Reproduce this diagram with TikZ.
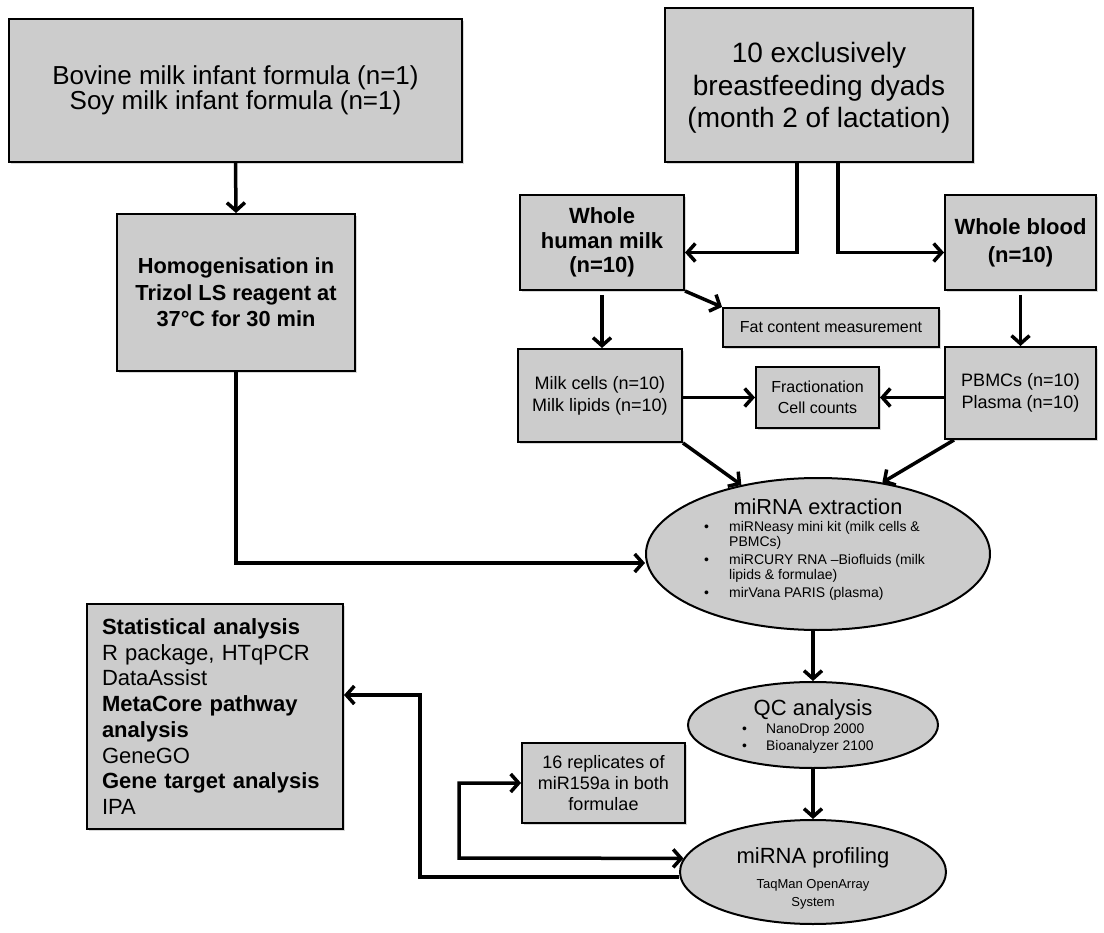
\documentclass[tikz,border=0pt]{standalone}
\usepackage{fontspec}
\setmainfont{Liberation Sans}
\usetikzlibrary{arrows.meta,shapes.geometric,shadows,calc}
\definecolor{boxgray}{RGB}{204,204,204}
\newcommand{\fs}[2]{\fontsize{#1}{#2}\selectfont}
\newcommand{\bulx}[1]{\makebox[#1][l]{\textbullet}}
\tikzset{
  x=1pt, y=-1pt,
  box/.style={draw=black, line width=2pt, fill=boxgray, inner sep=0pt, align=center,
    drop shadow={shadow xshift=2pt, shadow yshift=-2pt, opacity=0.3}},
  oval/.style={ellipse, draw=black, line width=2pt, fill=boxgray, inner sep=0pt},
  txt/.style={inner sep=0pt, align=center},
  barb/.tip={Straight Barb[length=8pt,width=18pt]},
  conn/.style={line width=3.5pt, -barb},
  twoway/.style={line width=3.5pt, barb-barb},
}
\begin{document}
\begin{tikzpicture}
\fill[white] (0,0) rectangle (1104,933);
\useasboundingbox (0,0) rectangle (1104,933);

% source samples
\node[box, minimum width=453pt, minimum height=143pt, font=\fs{26}{24}] (formula) at (235.5,90.5)
  {Bovine milk infant formula (n=1)\\Soy milk infant formula (n=1)};
\node[box, minimum width=308pt, minimum height=154pt, text depth=0pt, font=\fs{28}{32.5}] (dyads) at (819,85)
  {10 exclusively\\breastfeeding dyads\\(month 2 of lactation)};

% formula branch
\node[box, minimum width=238pt, minimum height=157pt, font=\bfseries\fs{21.8}{26.5}] (homog) at (236,292.5)
  {Homogenisation in\\Trizol LS reagent at\\37°C for 30 min};

% human milk / blood branch
\node[box, minimum width=164pt, minimum height=95pt, font=\bfseries\fs{22}{24.5}] (humanmilk) at (602,242.5)
  {Whole\\human milk\\(n=10)};
\node[box, minimum width=151pt, minimum height=95pt, font=\bfseries\fs{22}{28}] (blood) at (1020.5,242.5)
  {Whole blood\\(n=10)};
\node[box, minimum width=216pt, minimum height=39pt, font=\fs{16}{20}] (fat) at (831,327.5)
  {Fat content measurement};
\node[box, minimum width=164pt, minimum height=93pt, font=\fs{18}{22}] (milkcells) at (600,395.5)
  {Milk cells (n=10)\\Milk lipids (n=10)};
\node[box, minimum width=123pt, minimum height=61pt, font=\fs{16}{21}] (fraction) at (817.5,397.5)
  {Fractionation\\Cell counts};
\node[box, minimum width=151pt, minimum height=92pt, font=\fs{18}{22}] (pbmc) at (1020.5,393)
  {PBMCs (n=10)\\Plasma (n=10)};

% miRNA extraction
\node[oval, minimum width=344pt, minimum height=152pt] (extract) at (818,554) {};
\node[txt, font=\fs{21.7}{24}] (extractT) at (818,507) {miRNA extraction};
\node[txt, anchor=north west, align=left, font=\fs{14}{15.5}] (extractL) at (704,521)
  {\bulx{25pt}miRNeasy mini kit (milk cells \&\\
   \hspace*{25pt}PBMCs)\\[2pt]
   \bulx{25pt}miRCURY RNA –Biofluids (milk\\
   \hspace*{25pt}lipids \& formulae)\\[2pt]
   \bulx{25pt}mirVana PARIS (plasma)};

% QC
\node[oval, minimum width=250pt, minimum height=86pt] (qc) at (813,725) {};
\node[txt, font=\fs{22}{24}] (qcT) at (813,710) {QC analysis};
\node[txt, anchor=north west, align=left, font=\fs{13.9}{17}] (qcL) at (742,724)
  {\bulx{24pt}NanoDrop 2000\\\bulx{24pt}Bioanalyzer 2100};

% profiling
\node[oval, minimum width=266pt, minimum height=104pt] (prof) at (813,872) {};
\node[txt, font=\fs{22}{24}] (profT) at (813,858) {miRNA profiling};
\node[txt, font=\fs{13}{18}] (profL) at (813,894) {TaqMan OpenArray\\System};

\node[box, minimum width=163pt, minimum height=80pt, font=\fs{18}{21}] (replicates) at (603.5,783)
  {16 replicates of\\miR159a in both\\formulae};

\node[box, minimum width=256pt, minimum height=225pt, text width=226pt, align=left,
      font=\fs{22}{25.7}] (stats) at (215,716.5)
  {\textbf{Statistical analysis}\\R package, HTqPCR\\DataAssist\\\textbf{MetaCore pathway}\\
   \textbf{analysis}\\GeneGO\\\textbf{Gene target analysis}\\IPA};

% connectors
\draw[conn] (formula.south) -- (homog.north);
\draw[conn] ([xshift=-22pt]dyads.south) |- ([yshift=-10pt]humanmilk.east);
\draw[conn] ([xshift=19pt]dyads.south) |- ([yshift=-10pt]blood.west);
\draw[conn] ([yshift=-4pt]humanmilk.south) -- (humanmilk.south |- milkcells.north);
\draw[conn] (humanmilk.south east) -- (fat.north west);
\draw[conn] ([yshift=-4pt]blood.south) -- (blood.south |- pbmc.north);
\draw[conn] (fraction.west -| milkcells.east) -- (fraction.west);
\draw[conn] (fraction.east -| pbmc.west) -- (fraction.east);
\draw[conn] (milkcells.south east) -- (extract.138);
\draw[conn] ([xshift=10pt]pbmc.south west) -- (extract.48);
\draw[conn] (homog.south) |- ([yshift=-9pt]extract.west);
\draw[conn] (extract.south -| qc.north) -- (qc.north);
\draw[conn] (qc.south) -- (prof.north);

\coordinate (brk) at (459,858);
\draw[twoway] (replicates.west) -| (brk) -- (prof.174);
\coordinate (sj) at (420,695);
\draw[conn] ([yshift=-5pt]prof.west) -| (sj) -- (stats.east |- sj);
\end{tikzpicture}
\end{document}
